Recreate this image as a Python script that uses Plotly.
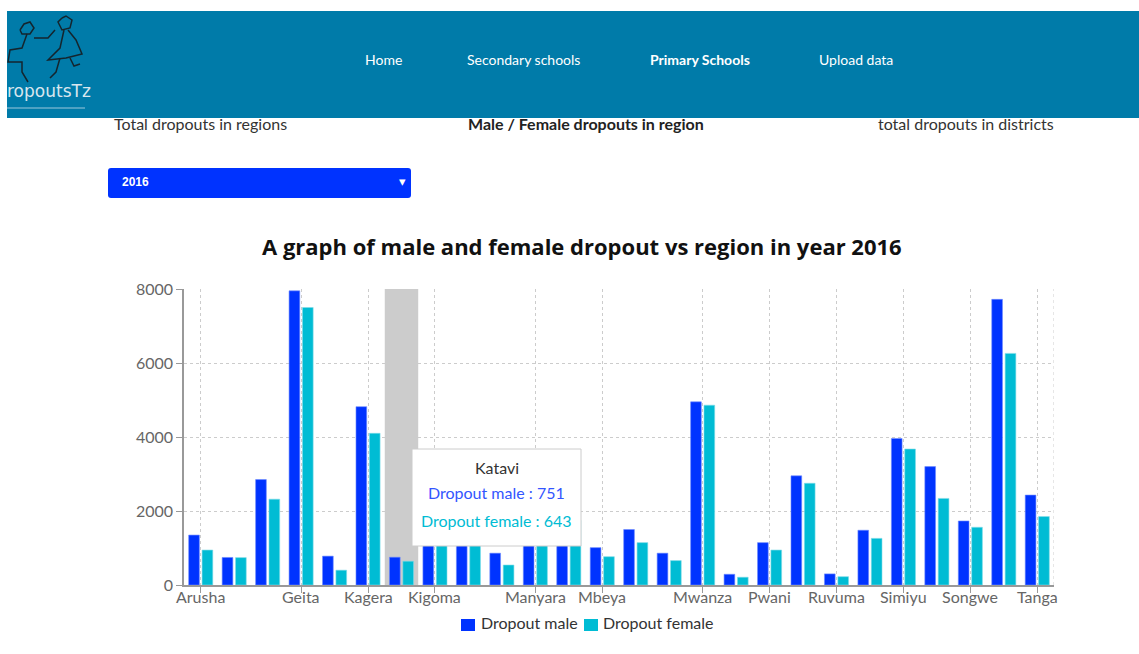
import plotly.graph_objects as go

regions = ["Arusha", "Dar es Salaam", "Dodoma", "Geita", "Iringa", "Kagera", "Katavi",
           "Kigoma", "Kilimanjaro", "Lindi", "Manyara", "Mara", "Mbeya", "Morogoro",
           "Mtwara", "Mwanza", "Njombe", "Pwani", "Rukwa", "Ruvuma", "Shinyanga",
           "Simiyu", "Singida", "Songwe", "Tabora", "Tanga"]
dropout_male = [1350, 745, 2850, 7950, 780, 4820, 751,
                1650, 1250, 860, 1450, 2100, 1010, 1500,
                860, 4950, 290, 1145, 2950, 300, 1480,
                3960, 3200, 1730, 7720, 2430]
dropout_female = [945, 740, 2320, 7500, 400, 4100, 643,
                  1480, 1150, 540, 1280, 1750, 765, 1145,
                  660, 4860, 210, 945, 2750, 225, 1260,
                  3675, 2340, 1560, 6260, 1850]
shown_ticks = ["Arusha", "Geita", "Kagera", "Kigoma", "Manyara", "Mbeya", "Mwanza",
               "Pwani", "Ruvuma", "Simiyu", "Songwe", "Tanga"]
y_ticks = [0, 2000, 4000, 6000, 8000]
series_names = ["Dropout male", "Dropout female"]
year = "2016"
hover_region = "Katavi"
nav_items = ["Home", "Secondary schools", "Primary Schools", "Upload data"]

W, H = 1139, 654
L, R, T, B = 184, 1054, 289, 585
PW, PH = R - L, B - T


def px(x):
    return (x - L) / PW


def py(y):
    return (B - y) / PH


MALE = "#0033ff"
FEMALE = "#00bcd4"
NAV = "#007ba9"
FONT = "Lato, 'Open Sans', sans-serif"
FONT_T = "'Open Sans', Lato, sans-serif"

fig = go.Figure()
fig.add_trace(go.Bar(x=regions, y=dropout_male, name=series_names[0], showlegend=False,
                     marker=dict(color=MALE, line=dict(color="#6f8cff", width=0.6))))
fig.add_trace(go.Bar(x=regions, y=dropout_female, name=series_names[1], showlegend=False,
                     marker=dict(color=FEMALE, line=dict(color="#7fdbe8", width=0.6))))

shapes = []
annotations = []


def text(t, x, y, size, color, xanchor="center", family=FONT):
    annotations.append(dict(text=t, xref="paper", yref="paper", x=px(x), y=py(y - 1.5),
                            xanchor=xanchor, yanchor="middle", showarrow=False,
                            font=dict(family=family, size=size, color=color)))


# hover cursor band
hi = regions.index(hover_region)
shapes.append(dict(type="rect", xref="x", yref="y", x0=hi - 0.5, x1=hi + 0.5, y0=0, y1=8000,
                   fillcolor="#cccccc", line=dict(width=0), layer="below"))
# right dashed border
shapes.append(dict(type="line", xref="x", yref="y", x0=len(regions) - 0.5, x1=len(regions) - 0.5,
                   y0=0, y1=8000, line=dict(color="#cccccc", width=1, dash="3px,3px"), layer="below"))

# navbar
shapes.append(dict(type="rect", xref="paper", yref="paper", x0=px(7), x1=px(W), y0=py(118), y1=py(11),
                   fillcolor=NAV, line=dict(width=0), layer="above"))
shapes.append(dict(type="line", xref="paper", yref="paper", x0=px(7), x1=px(85), y0=py(108), y1=py(108),
                   line=dict(color="#9cc9dc", width=1), layer="above"))
# simple stick-figure logo sketch
DARK = "#14252e"
logo_paths = [
    [(20, 30), (24, 24), (30, 22), (34, 28), (30, 34), (22, 34), (20, 30)],
    [(27, 34), (22, 48), (10, 50), (8, 62), (22, 62), (22, 72), (28, 82)],
    [(34, 38), (48, 38), (55, 30)],
    [(62, 18), (58, 22), (62, 30), (70, 28), (72, 20), (66, 16), (62, 18)],
    [(64, 30), (60, 48), (48, 60), (66, 58), (82, 54), (76, 40), (68, 30)],
    [(60, 58), (56, 72), (50, 78)],
    [(70, 58), (74, 66), (80, 64)],
]
for pts in logo_paths:
    path = "M " + " L ".join(f"{px(a)},{py(b)}" for a, b in pts)
    shapes.append(dict(type="path", xref="paper", yref="paper", path=path,
                       line=dict(color=DARK, width=1.5), layer="above"))
text("ropoutsTz", 5, 93, 17, "#d8e6ee", xanchor="left", family="DejaVu Sans")

nav_x = [383, 523, 700, 856]
for name, xc in zip(nav_items, nav_x):
    bold = name == "Primary Schools"
    text(f"<b>{name}</b>" if bold else name, xc, 61, 14, "white")

# sub-headings
text("Total dropouts in regions", 112, 125, 16, "#333", xanchor="left")
text("<b>Male / Female dropouts in region</b>", 586, 125, 16, "#222")
text("total dropouts in districts", 1056, 125, 16, "#333", xanchor="right")

# dropdown
shapes.append(dict(type="path", xref="paper", yref="paper",
                   path=(f"M {px(111)},{py(168)} L {px(408)},{py(168)} Q {px(411)},{py(168)} {px(411)},{py(171)} "
                         f"L {px(411)},{py(195)} Q {px(411)},{py(198)} {px(408)},{py(198)} "
                         f"L {px(111)},{py(198)} Q {px(108)},{py(198)} {px(108)},{py(195)} "
                         f"L {px(108)},{py(171)} Q {px(108)},{py(168)} {px(111)},{py(168)} Z"),
                   fillcolor=MALE, line=dict(width=0), layer="above"))
text(f"<b>{year}</b>", 120, 183, 12, "white", xanchor="left", family="Arial, Liberation Sans")
text("▾", 402, 183, 13, "white", family="DejaVu Sans")

# title
text(f"<b>A graph of male and female dropout vs region in year {year}</b>", 582, 247, 22, "#111",
     family=FONT_T)

# x tick labels
for name in shown_ticks:
    i = regions.index(name)
    text(name, L + (i + 0.5) * PW / len(regions), 598, 16, "#666")

# tooltip
shapes.append(dict(type="rect", xref="paper", yref="paper", x0=px(412), x1=px(581), y0=py(546), y1=py(449),
                   fillcolor="white", line=dict(color="#cccccc", width=1), layer="above"))
text(hover_region, 496.5, 469, 16, "#333")
text(f"{series_names[0]} : {dropout_male[hi]}", 496.5, 494, 16, "#3355ff")
text(f"{series_names[1]} : {dropout_female[hi]}", 496.5, 522, 16, FEMALE)

# legend (manual)
for sx, tx, col, nm in [(461, 479, MALE, series_names[0]), (584, 601, FEMALE, series_names[1])]:
    shapes.append(dict(type="rect", xref="paper", yref="paper", x0=px(sx), x1=px(sx + 14),
                       y0=py(631), y1=py(619), fillcolor=col, line=dict(width=0), layer="above"))
    text(nm, tx, 624, 16, "#333", xanchor="left")

fig.update_layout(
    width=W, height=H,
    margin=dict(l=L, r=W - R, t=T, b=H - B, pad=0),
    paper_bgcolor="white", plot_bgcolor="white",
    barmode="group", bargap=0.2, bargroupgap=0.2,
    font=dict(family=FONT, size=14, color="#666"),
    showlegend=False,
    shapes=shapes, annotations=annotations,
)
fig.update_xaxes(
    type="category", range=[-0.5, len(regions) - 0.5],
    tickmode="array", tickvals=shown_ticks, ticktext=[""] * len(shown_ticks),
    showgrid=True, gridcolor="#cccccc", griddash="3px,3px", gridwidth=1,
    showline=True, linecolor="#999999", linewidth=1.5,
    ticks="outside", ticklen=6, tickcolor="#999999",
)
fig.update_yaxes(
    range=[0, 8000], tickvals=y_ticks,
    showgrid=True, gridcolor="#cccccc", griddash="3px,3px", gridwidth=1,
    showline=True, linecolor="#999999", linewidth=1.5,
    ticks="outside", ticklen=6, tickcolor="#999999", zeroline=False,
    tickfont=dict(family=FONT, size=16, color="#666"),
)

fig.write_html("out.html", config={"displayModeBar": False},
               post_script="document.body.style.margin='0';document.body.style.overflow='hidden';")
